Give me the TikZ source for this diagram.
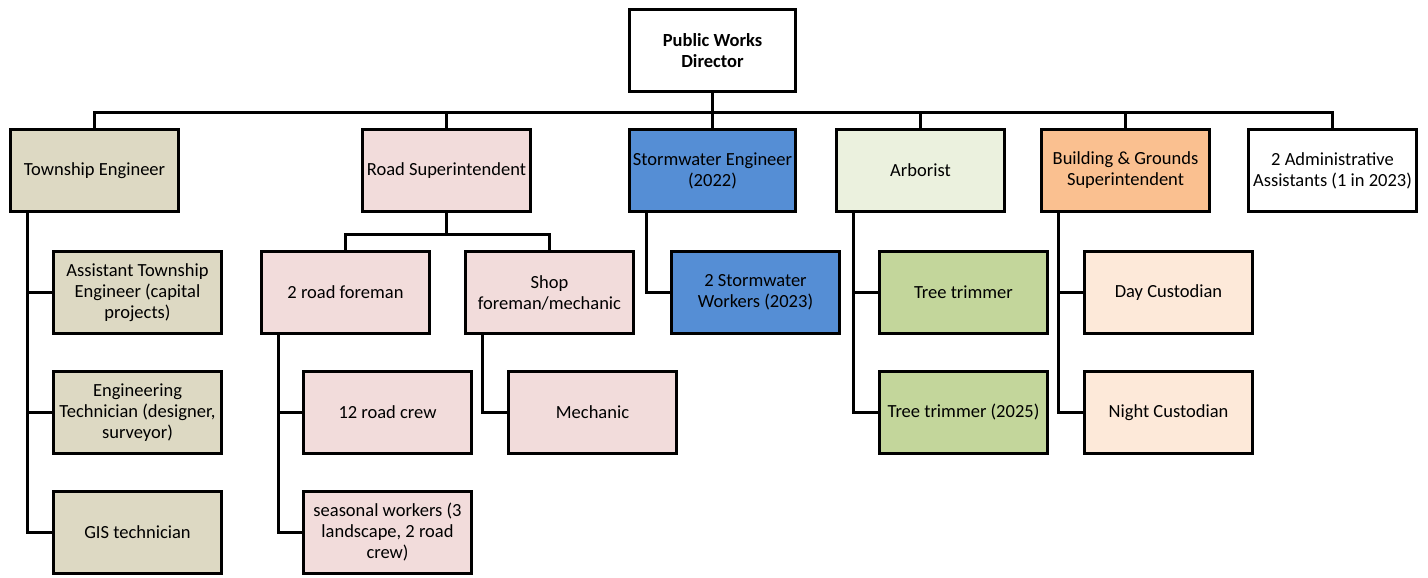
\documentclass[tikz,border=0pt]{standalone}
\usepackage{fontspec}
\setmainfont{Carlito}
\usetikzlibrary{positioning,calc}

\definecolor{tan}{RGB}{221,217,195}
\definecolor{roadpink}{RGB}{242,220,219}
\definecolor{stormblue}{RGB}{85,142,213}
\definecolor{arbgreen}{RGB}{235,241,222}
\definecolor{treegreen}{RGB}{195,214,155}
\definecolor{bgorange}{RGB}{250,192,144}
\definecolor{custpeach}{RGB}{253,233,217}

\begin{document}
\begin{tikzpicture}[
    %–––– GLOBAL STYLE TWEAKS ––––
    x=1pt, y=-1pt,                                   % pixel-like grid
    font=\fontsize{18.5}{21}\selectfont,
    node distance = 34.8pt and 40pt,                 % default vert / horiz gap
    box/.style = {rectangle, draw=black, line width=3.2pt,
                  align=center, inner sep=2pt,
                  minimum width=168pt,
                  minimum height=82pt},
    link/.style = {draw=black, line width=3.2pt},
]
\useasboundingbox (0,0) rectangle (1428,578);

%–––– DIRECTOR ––––
\node (pwd) [box, minimum width=166pt, font=\fontsize{18.5}{21}\selectfont\bfseries] at (712.5,50.5) {Public Works\\Director};

%–––– FIRST LEVEL ––––
\node (te) [box, fill=tan]       at (94.5,170.5)   {Township Engineer};
\node (rs) [box, fill=roadpink]  at (446.5,170.5)  {Road Superintendent};
\node (se) [box, fill=stormblue, minimum width=166pt] at (712.5,170.5) {Stormwater Engineer\\(2022)};
\node (ar) [box, fill=arbgreen]  at (920.5,170.5)  {Arborist};
\node (bg) [box, fill=bgorange]  at (1125.5,170.5) {Building \& Grounds\\Superintendent};
\node (aa) [box, fill=white]     at (1332.5,170.5) {2 Administrative\\Assistants (1 in 2023)};

%–––– TOWNSHIP ENGINEER ––––
\node (ate) [box, fill=tan, below right=36.8pt and 43pt of te.south west] {Assistant Township\\Engineer (capital\\projects)};
\node (et)  [box, fill=tan, below=of ate] {Engineering\\Technician (designer,\\surveyor)};
\node (gis) [box, fill=tan, below=of et]  {GIS technician};

%–––– ROAD SUPERINTENDENT ––––
\node (rf) [box, fill=roadpink, below left=36.8pt and 15.4pt of rs.south]  {2 road foreman};
\node (sf) [box, fill=roadpink, below right=36.8pt and 17.4pt of rs.south] {Shop\\foreman/mechanic};
\node (rc) [box, fill=roadpink, below right=34.8pt and 42pt of rf.south west] {12 road crew};
\node (sw) [box, fill=roadpink, below=of rc] {seasonal workers (3\\landscape, 2 road\\crew)};
\node (me) [box, fill=roadpink, below right=34.8pt and 43pt of sf.south west] {Mechanic};

%–––– STORMWATER / ARBORIST / BUILDINGS ––––
\node (swk) [box, fill=stormblue, below right=36.8pt and 42pt of se.south west] {2 Stormwater\\Workers (2023)};
\node (tt)  [box, fill=treegreen, below right=36.8pt and 43pt of ar.south west] {Tree trimmer};
\node (tt2) [box, fill=treegreen, below=of tt] {Tree trimmer (2025)};
\node (dc)  [box, fill=custpeach, below right=36.8pt and 43pt of bg.south west] {Day Custodian};
\node (nc)  [box, fill=custpeach, below=of dc] {Night Custodian};

%–––– CONNECTORS ––––
\coordinate (bus) at ($(pwd.south)+(0,19)$);
\foreach \n in {te,rs,se,ar,bg,aa}
  \draw[link] (pwd.south) -- (bus) -| (\n.north);

\foreach \n in {rf,sf}
  \draw[link] (rs.south) -- ++(0,21) -| (\n.north);

\foreach \p/\c in {te/ate, te/et, te/gis, rf/rc, rf/sw, sf/me,
                   se/swk, ar/tt, ar/tt2, bg/dc, bg/nc}
  \draw[link] ([xshift=18.5pt]\p.south west) |- (\c.west);

\end{tikzpicture}
\end{document}
